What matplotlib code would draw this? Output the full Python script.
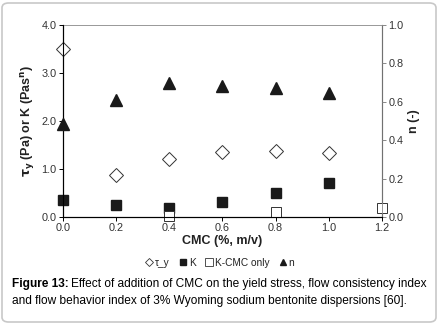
import numpy as np
import matplotlib.pyplot as plt
from matplotlib.lines import Line2D
from matplotlib.patches import FancyBboxPatch

plt.rcParams['font.family'] = ['Liberation Sans', 'DejaVu Sans']

# data
cmc = [0.0, 0.2, 0.4, 0.6, 0.8, 1.0]
tau_y = [3.51, 0.88, 1.20, 1.36, 1.38, 1.34]
k_val = [0.35, 0.25, 0.18, 0.32, 0.49, 0.70]
cmc_only = [0.4, 0.8, 1.2]
k_cmc_only = [0.02, 0.10, 0.19]
n_val = [0.484, 0.61, 0.696, 0.684, 0.67, 0.647]

xticks = [0.0, 0.2, 0.4, 0.6, 0.8, 1.0, 1.2]
yticks = [0.0, 1.0, 2.0, 3.0, 4.0]
y2ticks = [0.0, 0.2, 0.4, 0.6, 0.8, 1.0]

fig = plt.figure(figsize=(4.39, 3.24), dpi=100)
ax = fig.add_axes([63 / 439, 1 - 217 / 324, 319 / 439, 192 / 324])
ax2 = ax.twinx()

fs = 7.8
tick_col = '#333333'

ax.plot(cmc, tau_y, linestyle='none', marker='D', markersize=7.2, mfc='white',
        mec='#333333', mew=0.7, clip_on=False, zorder=5)
ax.plot(cmc, k_val, linestyle='none', marker='s', markersize=7, mfc='#1a1a1a',
        mec='#1a1a1a', clip_on=False, zorder=5)
ax.plot(cmc_only, k_cmc_only, linestyle='none', marker='s', markersize=7, mfc='white',
        mec='#333333', mew=0.7, clip_on=False, zorder=5)
ax2.plot(cmc, n_val, linestyle='none', marker='^', markersize=9, mfc='#1a1a1a',
         mec='#1a1a1a', clip_on=False, zorder=5)

ax.set_xlim(0, 1.2)
ax.set_ylim(0, 4.0)
ax2.set_ylim(0, 1.0)
ax.set_xticks(xticks)
ax.set_xticklabels(['%.1f' % v for v in xticks])
ax.set_yticks(yticks)
ax.set_yticklabels(['%.1f' % v for v in yticks])
ax2.set_yticks(y2ticks)
ax2.set_yticklabels(['%.1f' % v for v in y2ticks])

for a in (ax, ax2):
    a.tick_params(labelsize=fs, length=3, width=0.7, pad=1.5)
ax.spines['left'].set_color('black')
ax.spines['bottom'].set_color('black')
ax.spines['top'].set_color('#888888')
ax.spines['top'].set_linewidth(0.6)
ax2.spines['right'].set_color('#888888')
ax2.spines['right'].set_linewidth(0.6)
ax2.spines['top'].set_visible(False)
ax2.tick_params(axis='y', colors='#888888', labelcolor=tick_col)
ax.tick_params(axis='both', colors='black', labelcolor=tick_col)

ax.set_xlabel('CMC (%, m/v)', fontsize=9, fontweight='bold', color='#222222', labelpad=1)
ax.set_ylabel(r'$\mathbf{\tau_y}$ (Pa) or K (Pas$^\mathbf{n}$)', fontsize=9,
              fontweight='bold', color='#222222', labelpad=3)
ax2.set_ylabel('n (-)', fontsize=9, fontweight='bold', color='#222222',
               rotation=90, labelpad=3)

handles = [
    Line2D([], [], linestyle='none', marker='D', markersize=4, mfc='white', mec='#333333', mew=0.6),
    Line2D([], [], linestyle='none', marker='s', markersize=5, mfc='#1a1a1a', mec='#1a1a1a'),
    Line2D([], [], linestyle='none', marker='s', markersize=6, mfc='white', mec='#333333', mew=0.6),
    Line2D([], [], linestyle='none', marker='^', markersize=5, mfc='#1a1a1a', mec='#1a1a1a'),
]
labels = ['τ_y', 'K', 'K-CMC only', 'n']
fig.legend(handles, labels, loc='center', bbox_to_anchor=(220 / 439, 1 - 263 / 324),
           ncol=4, frameon=False, fontsize=7.3, handlelength=0.7, handletextpad=0.2,
           columnspacing=1.0, borderpad=0, labelcolor='#222222')

# caption
cap_fs = 8.6
t1 = fig.text(12 / 439, 1 - 284 / 324, 'Figure 13:', fontsize=cap_fs, fontweight='bold',
              va='center', ha='left', color='black')
fig.canvas.draw()
bb = t1.get_window_extent()
fig.text(bb.x1 / fig.bbox.width + 2 / 439, 1 - 284 / 324,
         'Effect of addition of CMC on the yield stress, flow consistency index',
         fontsize=cap_fs, va='center', ha='left', color='black')
fig.text(12 / 439, 1 - 301 / 324,
         'and flow behavior index of 3% Wyoming sodium bentonite dispersions [60].',
         fontsize=cap_fs, va='center', ha='left', color='black')

border = FancyBboxPatch((2 / 439, 2 / 324), 434 / 439, 319 / 324,
                        boxstyle='round,pad=0,rounding_size=0.015',
                        transform=fig.transFigure, fill=False, ec='#c8c8c8', lw=1.2)
fig.patches.append(border)

fig.savefig('out.png', dpi=100)
